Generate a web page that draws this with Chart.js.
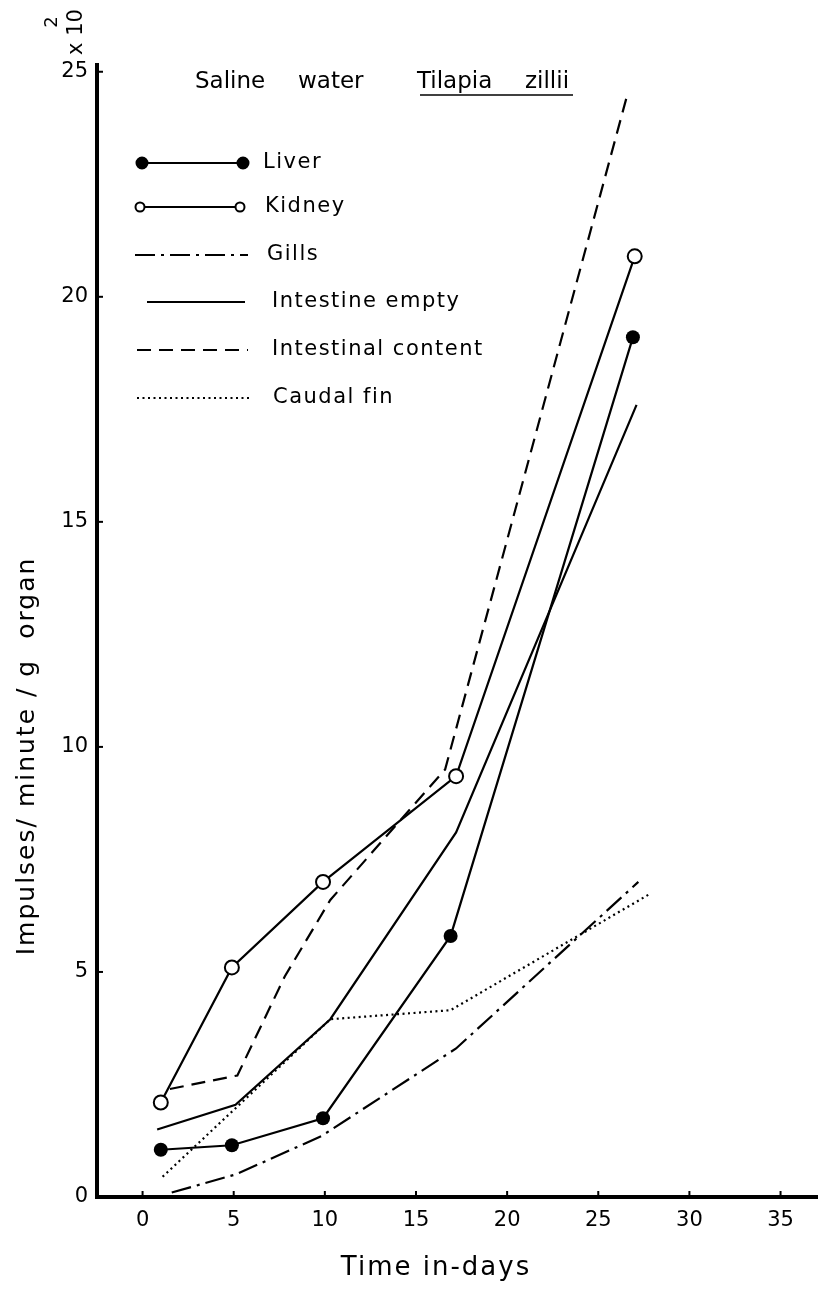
<!DOCTYPE html>
<html>
<head>
<meta charset="utf-8">
<script src="https://cdn.jsdelivr.net/npm/chart.js@4/dist/chart.umd.min.js"></script>
<style>
  html, body { margin: 0; padding: 0; background: #fff; }
  #wrap { width: 826px; height: 1292px; }
</style>
</head>
<body>
<div id="wrap"><canvas id="chart" width="826" height="1292"></canvas></div>
<script>
// values (days, impulses/min/g organ x 10^2)
const xTicks = [0, 5, 10, 15, 20, 25, 30, 35];
const yTicks = [0, 5, 10, 15, 20, 25];

const liverDays = [1.0, 4.9, 9.9, 16.9, 26.9];
const liverVals = [1.05, 1.15, 1.75, 5.8, 19.1];

const kidneyDays = [1.0, 4.9, 9.9, 17.2, 27.0];
const kidneyVals = [2.1, 5.1, 7.0, 9.35, 20.9];

const gillsDays = [1.6, 5.1, 9.8, 17.2, 27.2];
const gillsVals = [0.1, 0.5, 1.35, 3.3, 7.0];

const emptyDays = [0.8, 5.1, 10.3, 17.2, 27.1];
const emptyVals = [1.5, 2.05, 3.95, 8.1, 17.6];

const contentDays = [1.5, 5.2, 7.8, 10.3, 16.6, 26.6];
const contentVals = [2.4, 2.7, 4.9, 6.6, 9.5, 24.5];

const caudalDays = [1.1, 10.3, 16.9, 27.9];
const caudalVals = [0.45, 3.95, 4.15, 6.75];

const FONT = '"DejaVu Sans", sans-serif';

function pts(xs, ys) {
    return xs.map((x, i) => ({ x: x, y: ys[i] }));
}

const styles = {
    liver:   { dash: [], radius: 7, fill: '#000' },
    kidney:  { dash: [], radius: 7, fill: '#fff' },
    gills:   { dash: [20, 6, 3, 6], radius: 0 },
    empty:   { dash: [], radius: 0 },
    content: { dash: [14, 8], radius: 0 },
    caudal:  { dash: [2, 3.5], radius: 0 }
};

function ds(label, xs, ys, st) {
    return {
        label: label,
        data: pts(xs, ys),
        borderColor: '#000',
        borderWidth: 2.2,
        borderDash: st.dash,
        pointRadius: st.radius,
        pointBackgroundColor: st.fill || '#000',
        pointBorderColor: '#000',
        pointBorderWidth: st.fill === '#000' ? 0 : 2,
        pointHoverRadius: st.radius,
        tension: 0,
        fill: false,
        clip: false
    };
}

// legend rows drawn inside the plot, like the original
const legendRows = [
    { text: 'Liver', st: styles.liver, y: 163, x0: 142, x1: 243, tx: 263 },
    { text: 'Kidney', st: styles.kidney, y: 207, x0: 140, x1: 240, tx: 265 },
    { text: 'Gills', st: styles.gills, y: 255, x0: 135, x1: 248, tx: 267 },
    { text: 'Intestine empty', st: styles.empty, y: 302, x0: 147, x1: 245, tx: 272 },
    { text: 'Intestinal content', st: styles.content, y: 350, x0: 137, x1: 248, tx: 272 },
    { text: 'Caudal fin', st: styles.caudal, y: 398, x0: 137, x1: 250, tx: 273 }
];

const decor = {
    id: 'decor',
    afterDraw(chart) {
        const ctx = chart.ctx;
        const xs = chart.scales.x, ys = chart.scales.y;
        const area = chart.chartArea;
        ctx.save();
        ctx.strokeStyle = '#000';
        ctx.fillStyle = '#000';

        // small inward tick marks
        ctx.lineWidth = 2;
        xTicks.forEach(v => {
            const px = xs.getPixelForValue(v);
            ctx.beginPath();
            ctx.moveTo(px, area.bottom);
            ctx.lineTo(px, area.bottom - 6);
            ctx.stroke();
        });
        yTicks.forEach(v => {
            const py = ys.getPixelForValue(v);
            ctx.beginPath();
            ctx.moveTo(area.left, py);
            ctx.lineTo(area.left + 6, py);
            ctx.stroke();
        });

        // heading
        ctx.font = '23px ' + FONT;
        ctx.textBaseline = 'alphabetic';
        ctx.textAlign = 'left';
        ctx.fillText('Saline', 195, 88);
        ctx.fillText('water', 298, 88);
        ctx.fillText('Tilapia', 417, 88);
        ctx.fillText('zillii', 525, 88);
        ctx.lineWidth = 1.5;
        ctx.beginPath();
        ctx.moveTo(420, 95);
        ctx.lineTo(573, 95);
        ctx.stroke();

        // legend
        ctx.font = '21px ' + FONT;
        ctx.textBaseline = 'middle';
        ctx.letterSpacing = '1.5px';
        legendRows.forEach(r => {
            ctx.lineWidth = 2;
            ctx.setLineDash(r.st.dash);
            ctx.beginPath();
            ctx.moveTo(r.x0, r.y);
            ctx.lineTo(r.x1, r.y);
            ctx.stroke();
            ctx.setLineDash([]);
            if (r.st.radius) {
                [r.x0, r.x1].forEach(cx => {
                    ctx.beginPath();
                    ctx.arc(cx, r.y, r.st.fill === '#000' ? 5.5 : 4.5, 0, Math.PI * 2);
                    ctx.fillStyle = r.st.fill;
                    ctx.fill();
                    ctx.stroke();
                });
                ctx.fillStyle = '#000';
            }
            ctx.fillText(r.text, r.tx, r.y);
        });

        // axis titles
        ctx.letterSpacing = '2px';
        ctx.font = '26px ' + FONT;
        ctx.textAlign = 'center';
        ctx.fillText('Time in-days', 436, 1268);

        ctx.save();
        ctx.translate(27, 756);
        ctx.rotate(-Math.PI / 2);
        ctx.font = '25px ' + FONT;
        ctx.letterSpacing = '2px';
        ctx.fillText('Impulses/ minute / g  organ', 0, 0);
        ctx.restore();

        // multiplier x 10^2
        ctx.save();
        ctx.letterSpacing = '0px';
        ctx.translate(77, 32);
        ctx.rotate(-Math.PI / 2);
        ctx.font = '21px ' + FONT;
        ctx.fillText('x 10', 0, 0);
        ctx.restore();
        ctx.save();
        ctx.letterSpacing = '0px';
        ctx.translate(52, 22);
        ctx.rotate(-Math.PI / 2);
        ctx.font = '18px ' + FONT;
        ctx.fillText('2', 0, 0);
        ctx.restore();

        ctx.restore();
    }
};

new Chart(document.getElementById('chart'), {
    type: 'line',
    data: {
        datasets: [
            ds('Liver', liverDays, liverVals, styles.liver),
            ds('Kidney', kidneyDays, kidneyVals, styles.kidney),
            ds('Gills', gillsDays, gillsVals, styles.gills),
            ds('Intestine empty', emptyDays, emptyVals, styles.empty),
            ds('Intestinal content', contentDays, contentVals, styles.content),
            ds('Caudal fin', caudalDays, caudalVals, styles.caudal)
        ]
    },
    options: {
        responsive: false,
        animation: false,
        devicePixelRatio: 1,
        layout: { padding: { top: 65, left: 0, right: 0, bottom: 0 } },
        plugins: { legend: { display: false }, tooltip: { enabled: false } },
        scales: {
            x: {
                type: 'linear',
                min: -2.5,
                max: 37,
                afterBuildTicks: s => { s.ticks = xTicks.map(v => ({ value: v })); },
                afterFit: s => { s.height = 95; },
                grid: { display: false, drawTicks: false },
                border: { display: true, color: '#000', width: 4 },
                ticks: { color: '#000', padding: 11, font: { family: FONT, size: 21 } }
            },
            y: {
                type: 'linear',
                min: 0,
                max: 25.15,
                afterBuildTicks: s => { s.ticks = yTicks.map(v => ({ value: v })); },
                afterFit: s => { s.width = 97; },
                grid: { display: false, drawTicks: false },
                border: { display: true, color: '#000', width: 4 },
                ticks: { color: '#000', padding: 9, font: { family: FONT, size: 21 } }
            }
        }
    },
    plugins: [decor]
});
</script>
</body>
</html>
